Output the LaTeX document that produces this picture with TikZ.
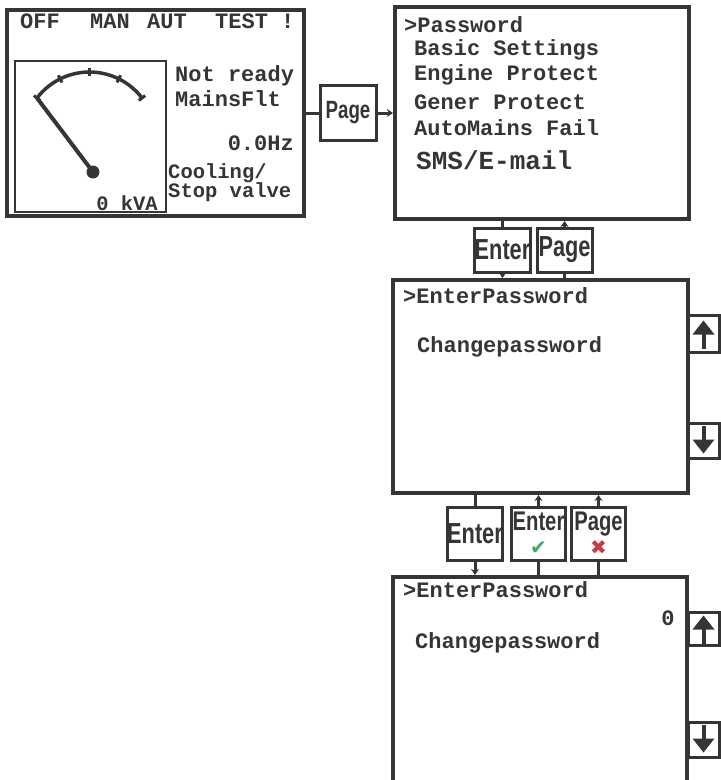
\documentclass[tikz,border=0pt]{standalone}
\usepackage{fontspec}
\usetikzlibrary{arrows.meta}
\newfontfamily\lcdfont{Liberation Mono}
\newfontfamily\keyfont[FakeStretch=0.75]{Liberation Sans}
\newfontfamily\symfont{DejaVu Sans}
\definecolor{ink}{RGB}{52,54,54}
\definecolor{okgreen}{RGB}{62,168,92}
\definecolor{nored}{RGB}{200,58,70}
\begin{document}
\begin{tikzpicture}[x=1pt,y=-1pt,>={Stealth[length=6pt,width=8pt]},
  screen/.style={draw=ink,line width=4pt,inner sep=0pt},
  key/.style={draw=ink,line width=3pt,inner sep=0pt,minimum width=55pt,minimum height=44pt,
    text=ink,align=center,font=\keyfont\bfseries\fontsize{29}{21}\selectfont},
  arrowkey/.style={draw=ink,line width=3pt,inner sep=0pt,minimum width=31pt},
  txt/.style={text=ink,inner sep=0pt,anchor=west,font=\lcdfont\bfseries\fontsize{22}{22}\selectfont},
  small/.style={font=\lcdfont\bfseries\fontsize{20.5}{20.5}\selectfont},
  wire/.style={draw=ink,line width=3pt}]
\path[use as bounding box,clip] (0,0) rectangle (721,780);
% main screen
\node[screen,minimum width=297pt,minimum height=206pt] (lcd) at (155.5,113) {};
\node[draw=ink,line width=2.5pt,inner sep=0pt,minimum width=151pt,minimum height=151pt] (gauge) at (90.5,136.5) {};
\foreach \t/\x in {OFF/20,MAN/90,AUT/147,TEST !/215}
  \node[txt] (top\x) at (\x,21) {\t};
\coordinate (gc) at (89.5,138);
\draw[ink,line width=3.5pt] (gc) ++(-142.7:66) arc (-142.7:-37.3:66);
\foreach \a in {-142.7,-116.35,-90,-63.65,-37.3}
  \draw[ink,line width=3pt] (gc) ++(\a:62) -- ++(\a:8);
\draw[ink,line width=4pt] (gc) ++(-142.7:66) -- (93,172);
\fill[ink] (93,172) circle (6.5);
\node[txt] (st1) at (175,76) {Not ready};
\node[txt] (st2) at (175,99) {MainsFlt};
\node[txt,anchor=east] (hz) at (294,143) {0.0Hz};
\node[txt,small] (cl1) at (168,173) {Cooling/};
\node[txt,small] (cl2) at (168,192) {Stop valve};
\node[txt,small,anchor=east] (kva) at (158,203) {0 kVA};
% menu
\node[screen,minimum width=294pt,minimum height=212pt] (menu) at (542,113) {};
\node[key,minimum width=56pt,minimum height=55pt,font=\keyfont\bfseries\fontsize{25}{25}\selectfont] (page0) at (348,113) {Page};
\draw[wire] (lcd) -- (page0);
\draw[wire,->] (page0) -- (menu);
\node[txt] (m0) at (404,25) {>Password};
\foreach \t/\y [count=\i] in {Basic Settings/50,Engine Protect/75,Gener Protect/102,AutoMains Fail/128}
  \node[txt] (m\i) at (414,\y) {\t};
\node[txt,font=\lcdfont\bfseries\fontsize{26}{26}\selectfont] (m5) at (416,160) {SMS/E-mail};
% password screen
\node[screen,minimum width=295pt,minimum height=213pt] (pwd) at (540.5,386.5) {};
\node[key] (enterA) at (502.5,250) {Enter};
\node[key] (pageA) at (564.5,250) {Page};
\draw[wire] (menu.south -| enterA) -- (enterA);
\draw[wire,->] (enterA) -- (enterA |- pwd.north);
\draw[wire] (pwd.north -| pageA) -- (pageA);
\draw[wire,->] (pageA) -- (pageA |- menu.south);
\node[txt] (p1) at (403,296) {>EnterPassword};
\node[txt] (p2) at (417,347) {Changepassword};
\node[arrowkey,minimum height=37pt] (upA) at (703.5,333.5) {};
\node[arrowkey,minimum height=35pt] (dnA) at (703.5,440.5) {};
% change screen
\node[screen,minimum width=294pt,minimum height=260pt] (chg) at (540,707) {};
\node[key,minimum width=54pt,minimum height=53pt] (enterB) at (475,533.5) {Enter};
\node[key,minimum width=54pt,minimum height=53pt,font=\keyfont\bfseries\fontsize{27}{21}\selectfont] (okB) at (538.5,533.5) {Enter\\[3pt]{\symfont\fontsize{20}{20}\selectfont\color{okgreen}✔}};
\node[key,minimum width=54pt,minimum height=53pt,font=\keyfont\bfseries\fontsize{27}{21}\selectfont] (escB) at (598.5,533.5) {Page\\[3pt]{\symfont\fontsize{20}{20}\selectfont\color{nored}✖}};
\draw[wire] (pwd.south -| enterB) -- (enterB);
\draw[wire,->] (enterB) -- (enterB |- chg.north);
\foreach \k in {okB,escB}
{
    \draw[wire] (chg.north -| \k) -- (\k);
    \draw[wire,->] (\k) -- (\k |- pwd.south);
}
\node[txt] (c1) at (403,590) {>EnterPassword};
\node[txt,anchor=center] (c0) at (668,618) {0};
\node[txt] (c2) at (415,643) {Changepassword};
\node[arrowkey,minimum height=33pt] (upB) at (703.5,628.5) {};
\node[arrowkey,minimum height=35pt] (dnB) at (703.5,739.5) {};
\foreach \k/\s in {upA/1,dnA/-1,upB/1,dnB/-1}
{
    \begin{scope}[shift={(\k.center)},yscale=\s]
        \fill[ink] (0,-13) -- (11,1) -- (-11,1) -- cycle;
        \draw[ink,line width=4pt] (0,0) -- (0,15);
    \end{scope}
}
\end{tikzpicture}
\end{document}
